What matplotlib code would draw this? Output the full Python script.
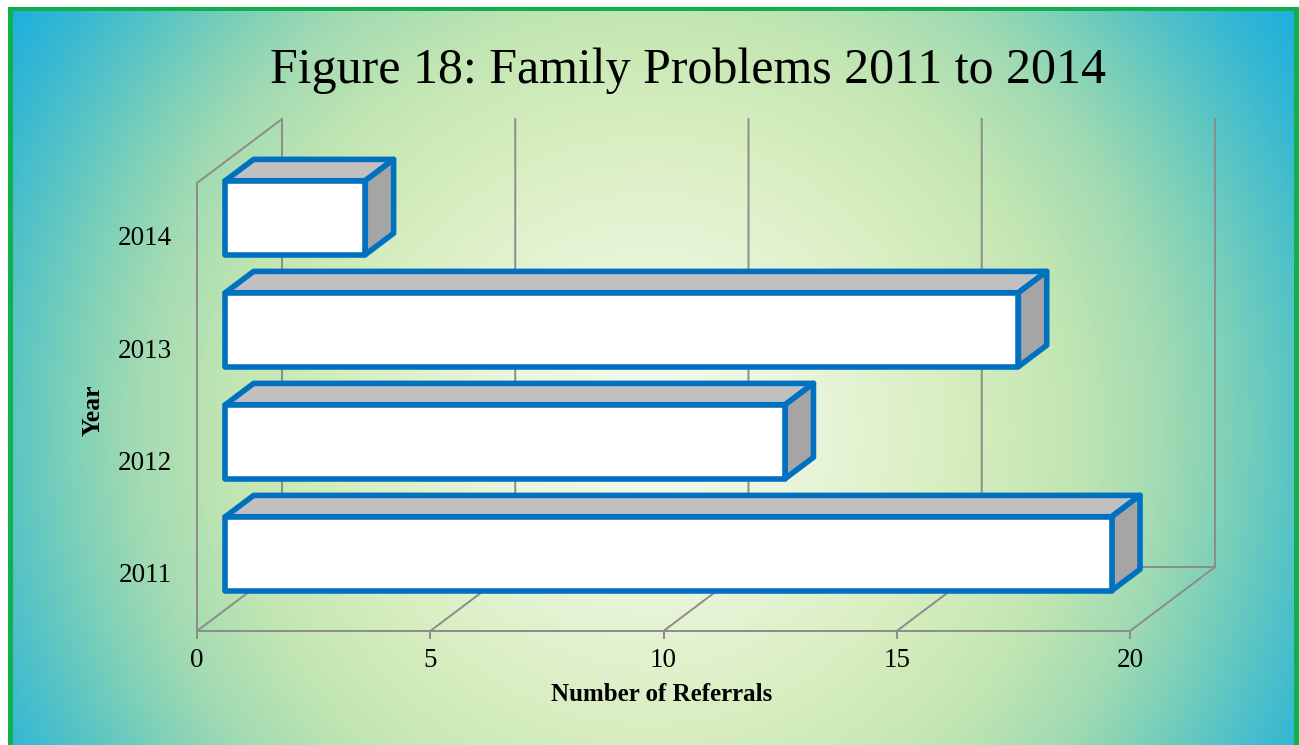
import numpy as np
import matplotlib
matplotlib.use('Agg')
import matplotlib.pyplot as plt
from matplotlib.colors import LinearSegmentedColormap
from matplotlib.patches import Polygon, Rectangle

# data
years = ['2011', '2012', '2013', '2014']
referrals = [19, 12, 17, 3]
xticks = [0, 5, 10, 15, 20]

W, H = 1299, 745
fig = plt.figure(figsize=(W / 100, H / 100), dpi=100)
fig.patch.set_facecolor('white')

# radial gradient background (in pixels)
bg = fig.add_axes([0, 0, 1, 1], zorder=0)
bg.set_xlim(0, W)
bg.set_ylim(H, 0)
bg.axis('off')
yy, xx = np.mgrid[0:H, 0:W]
r = np.hypot(xx - 650, yy - 430)
stops = [(0, '#f4faee'), (150, '#eaf5dc'), (300, '#d8eec0'), (420, '#c2e6b2'),
         (520, '#a0dab2'), (590, '#78cfba'), (650, '#55c3c6'), (715, '#33b7d4'),
         (790, '#14ace3')]
cmap = LinearSegmentedColormap.from_list('bg', [(p / 790, c) for p, c in stops])
bg.imshow(np.clip(r / 790, 0, 1), cmap=cmap, vmin=0, vmax=1,
          extent=(0, W, H, 0), aspect='auto', interpolation='bilinear')
bg.add_patch(Rectangle((0, 0), 8, H, color='white', lw=0))
bg.add_patch(Rectangle((0, 0), W, 7, color='white', lw=0))
bg.add_patch(Rectangle((8, 7), 5, H, color='#12b04c', lw=0))
bg.add_patch(Rectangle((8, 7), W - 8, 3.5, color='#12b04c', lw=0))
bg.add_patch(Rectangle((W - 5, 7), 5, H, color='#12b04c', lw=0))

# chart axes: front plane x 0..20 -> 197..1130 px, categories 112 px apart
sx = (1130 - 197) / 20.0
sy = 112.0
ax = fig.add_axes([0, 0, 1, 1], zorder=1)
ax.patch.set_alpha(0)
ax.set_xlim(-197 / sx, (W - 197) / sx)
ax.set_ylim((575 - H) / sy, 575 / sy)
ax.axis('off')

dx, dy = 85 / sx, 64 / sy     # full depth offset
ymin, ymax = -0.5, len(years) - 0.5
xmax = xticks[-1]
grid = '#8c8c8c'
lw_grid = 1.4

# walls and floor
ax.plot([0, 0, dx, dx, 0], [ymin, ymax, ymax + dy, ymin + dy, ymin], color=grid, lw=lw_grid)
ax.plot([0, xmax, xmax + dx, dx], [ymin, ymin, ymin + dy, ymin + dy], color=grid, lw=lw_grid)
ax.plot([xmax + dx, xmax + dx], [ymin + dy, ymax + dy], color=grid, lw=lw_grid)
for t in xticks[1:-1]:
    ax.plot([t, t + dx, t + dx], [ymin, ymin + dy, ymax + dy], color=grid, lw=lw_grid)
for t in xticks:
    ax.plot([t, t], [ymin, ymin - 0.06], color=grid, lw=lw_grid)

# 3d bars
d0, d1 = 1 / 3., 2 / 3.
hw = 0.33
blue = '#0070c0'
for i in range(len(years) - 1, -1, -1):
    v = referrals[i]
    x0, y0 = d0 * dx, i - hw + d0 * dy
    x1, y1 = d1 * dx, i - hw + d1 * dy
    top = [(x0, y0 + 2 * hw), (x0 + v, y0 + 2 * hw), (x1 + v, y1 + 2 * hw), (x1, y1 + 2 * hw)]
    side = [(x0 + v, y0), (x1 + v, y1), (x1 + v, y1 + 2 * hw), (x0 + v, y0 + 2 * hw)]
    front = [(x0, y0), (x0 + v, y0), (x0 + v, y0 + 2 * hw), (x0, y0 + 2 * hw)]
    for pts, fc in [(top, '#c0c0c0'), (side, '#a5a5a5'), (front, 'white')]:
        ax.add_patch(Polygon(pts, closed=True, facecolor=fc, edgecolor=blue,
                             lw=4.0, joinstyle='round', zorder=3))

serif = ['Liberation Serif', 'DejaVu Serif']
for i, y in enumerate(years):
    ax.text(-0.54, i, y, ha='right', va='center', fontsize=19.5, family=serif)
for t in xticks:
    ax.text(t, -0.76, str(t), ha='center', va='center', fontsize=19.5, family=serif)

ax.text(-2.23, 1.47, 'Year', rotation=90, ha='center', va='center',
        fontsize=18.5, fontweight='bold', family=serif)
ax.text(9.97, -1.07, 'Number of Referrals', ha='center', va='center',
        fontsize=18, fontweight='bold', family=serif)
fig.text(688 / W, 1 - 71 / H, 'Figure 18: Family Problems 2011 to 2014',
         ha='center', va='center', fontsize=36, family=serif)

fig.savefig('out.png', dpi=100)
